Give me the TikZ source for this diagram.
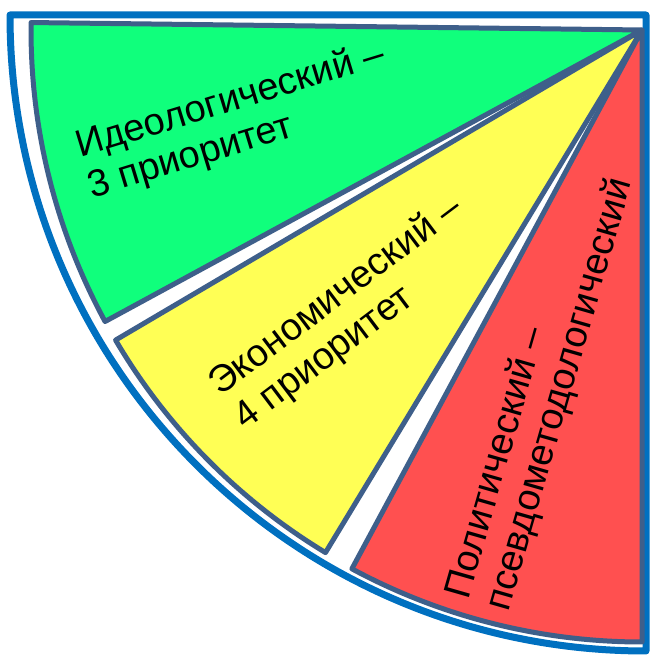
\documentclass[tikz,border=0pt]{standalone}
\usepackage{fontspec}
\setmainfont{Liberation Sans}
\definecolor{outerblue}{HTML}{0070C0}
\definecolor{edgeblue}{HTML}{3E5F8A}
\definecolor{wgreen}{HTML}{10FF7C}
\definecolor{wyellow}{HTML}{FFFF55}
\definecolor{wred}{HTML}{FF5050}
\tikzset{
  wedge/.style={draw=edgeblue, line width=5pt, line join=round},
  lbl/.style={inner sep=0pt, anchor=base west, font=\fontsize{38}{45}\selectfont, text=black}
}
\begin{document}
\begin{tikzpicture}[x=1pt,y=1pt]
\useasboundingbox (0,0) rectangle (650,658);
% outer quarter-circle frame
\draw[outerblue, line width=7pt, line join=round]
  (10,643) -- (646,643) -- (646,7) arc[start angle=270, end angle=180, radius=636] -- cycle;
% wedges
\coordinate (apex) at (642,628);
\fill[wgreen] (apex) -- ++(179.3:611) arc[start angle=179.3, end angle=208.5, radius=611] -- cycle;
\draw[wedge] (apex) -- ++(179.3:611) arc[start angle=179.3, end angle=208.5, radius=611] -- cycle;
\fill[wyellow] (apex) -- ++(210.5:611) arc[start angle=210.5, end angle=238.8, radius=611] -- cycle;
\draw[wedge] (apex) -- ++(210.5:611) arc[start angle=210.5, end angle=238.8, radius=611] -- cycle;
\fill[wred] (apex) -- ++(241.7:612) arc[start angle=241.7, end angle=270, radius=612] -- cycle;
\draw[wedge] (apex) -- ++(241.7:612) arc[start angle=241.7, end angle=270, radius=612] -- cycle;
% labels
\node[lbl, rotate=17] (g1) at (80,500) {Идеологический –};
\node[lbl, rotate=17] (g2) at (92.3,459.8) {3 приоритет};
\node[lbl, rotate=37] (y1) at (220,261) {Экономический –};
\node[lbl, rotate=37] (y2) at (245.3,227.5) {4 приоритет};
\node[lbl, rotate=74] (r1) at (468,57) {Политический –};
\node[lbl, rotate=74] (r2) at (508.4,45.4) {псевдометодологический};
\end{tikzpicture}
\end{document}
